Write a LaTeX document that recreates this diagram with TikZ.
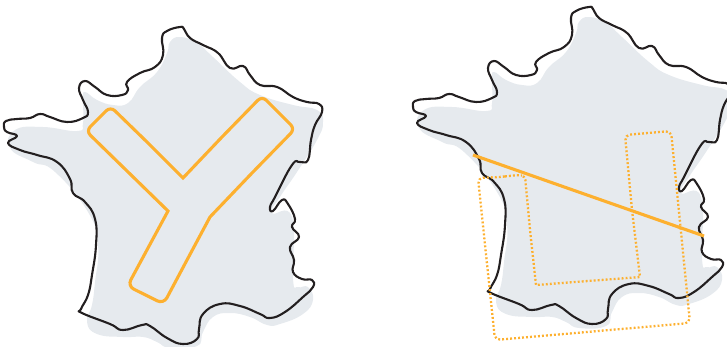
\documentclass[tikz,border=0pt]{standalone}
\definecolor{landgrey}{HTML}{E6EAEE}
\definecolor{routeorange}{HTML}{FDB02F}
\definecolor{coast}{HTML}{231F20}
\tikzset{x=1pt,y=-1pt,
  coastline/.style={draw=coast,line width=2.1pt,line join=round},
  landfill/.style={fill=landgrey},
  routesolid/.style={draw=routeorange,line width=3.1pt,line join=miter},
  routedot/.style={draw=routeorange,line width=2.3pt,dash pattern=on 1.9pt off 2.1pt}}
\newcommand{\landshape}{plot[smooth cycle,tension=0.8] coordinates {
 (10,148)(15,130)(43,127)(77,131)(83,123)(83,100)(85,92)(97,100)(113,105)(128,103)(140,87)(157,72)(167,53)(170,42)(180,37)
 (197,43)(213,57)(240,82)(260,95)(293,105)(317,110)(323,122)(317,140)(297,172)(280,197)(272,213)(292,217)(293,279)(298,287)(308,287)
 (313,300)(303,314)(280,324)(267,325)(250,317)(230,313)(213,317)(203,332)(197,346)(170,348)(157,342)(143,337)(123,337)(97,334)(87,322)
 (92,305)(95,282)(98,245)(88,212)(55,172)(33,162)}}
\newcommand{\coastshape}{plot[smooth cycle,tension=0.8] coordinates {
 (4,127)(6,121)(17,119)(30,118)(40,114)(50,117)(67,122)(83,118)(88,112)(83,100)(79,88)(85,81)(95,87)(107,95)(122,95)(128,90)(127,82)(140,73)(155,67)(163,55)(162,38)(167,31)(180,27)
 (184,29)(190,38)(203,45)(218,53)(230,68)(243,66)(250,75)(260,85)(277,87)(293,97)(307,102)(319,104)(322,112)(315,125)(311,140)(308,160)(300,162)(292,165)
 (275,197)(270,207)(273,211)(282,200)(288,204)(295,219)(292,227)(299,237)(290,247)(294,260)(293,272)(302,279)(312,280)(313,287)(303,297)(285,312)(270,318)(260,314)(240,306)(220,304)(203,314)(199,329)(197,339)(183,344)(167,338)
 (150,326)(142,325)(123,330)(110,324)(82,313)(81,309)(88,295)(92,275)(96,245)(95,219)(85,202)(73,193)(70,179)(57,162)(37,155)(20,150)(8,143)(17,136)(7,132)}}
\begin{document}
\begin{tikzpicture}
\useasboundingbox (0,0) rectangle (727,347);
\clip (0,0) rectangle (727,347);
% left map
\path[landfill] \landshape;
\draw[coastline] \coastshape;
\draw[routesolid] (98,119) [rounded corners=6pt] -- (110.5,106.5) -- (147,142) [sharp corners] -- (183,178) -- (222,137) [rounded corners=6pt] -- (262,96) -- (295,129) -- (252,173) [sharp corners] -- (210,217) -- (187,260) [rounded corners=7pt] -- (163.6,304) -- (127.5,286) -- (148,248) [sharp corners] -- (168,211) -- (127,171) [rounded corners=6pt] -- (86,131) -- cycle;
% right map
\begin{scope}[shift={(409,-20)}]
\path[landfill] \landshape;
\draw[coastline] \coastshape;
\end{scope}
\coordinate (lineA) at (473,155);
\coordinate (lineB) at (704,236);
\draw[routesolid] (lineA) -- (lineB);
\draw[routedot] (500,177) [rounded corners=4pt] -- (518,175) -- (525,176) -- (530,230) [sharp corners] -- (536,285) -- (640,277) -- (632,210) [rounded corners=5pt] -- (625,135) -- (671,131) -- (690,323) -- (495,340) -- (478,178) -- cycle;
\end{tikzpicture}
\end{document}
